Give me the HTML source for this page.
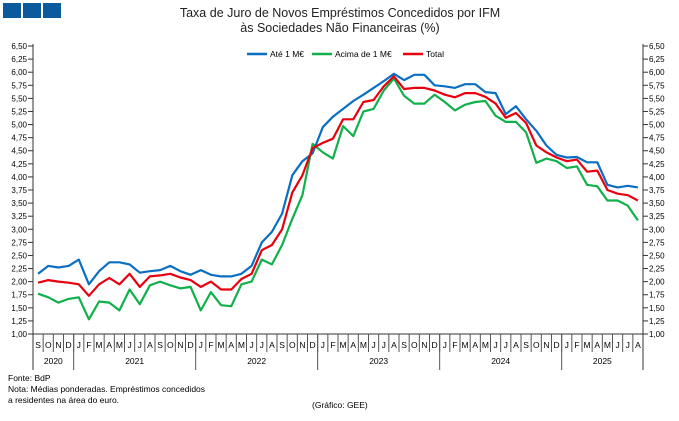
<!DOCTYPE html><html><head><meta charset="utf-8"><style>
body{margin:0;background:#fff;width:679px;height:416px;overflow:hidden;font-family:"Liberation Sans",sans-serif}
</style></head><body>
<svg id="s" width="679" height="416" xmlns="http://www.w3.org/2000/svg" font-family="Liberation Sans, sans-serif">
<rect x="3" y="3" width="18" height="15" fill="#0b5a9e"/><rect x="23" y="3" width="18" height="15" fill="#0b5a9e"/><rect x="43" y="3" width="18" height="15" fill="#0b5a9e"/>
<text x="340" y="17" font-size="12.5" text-anchor="middle" fill="#222">Taxa de Juro de Novos Empréstimos Concedidos por IFM</text>
<text x="340" y="32" font-size="12.5" text-anchor="middle" fill="#222">às Sociedades Não Financeiras (%)</text>
<line x1="247" y1="54" x2="267" y2="54" stroke="#0a6fc2" stroke-width="2.5"/><text x="270" y="57" font-size="8.5">Até 1 M€</text>
<line x1="312" y1="54" x2="332" y2="54" stroke="#10b04a" stroke-width="2.5"/><text x="335" y="57" font-size="8.5">Acima de 1 M€</text>
<line x1="403" y1="54" x2="423" y2="54" stroke="#e8000e" stroke-width="2.5"/><text x="426" y="57" font-size="8.5">Total</text>
<text x="8" y="381" font-size="8.5">Fonte: BdP</text>
<text x="8" y="392" font-size="8.5">Nota: Médias ponderadas. Empréstimos concedidos</text>
<text x="8" y="403" font-size="8.5">a residentes na área do euro.</text>
<text x="312" y="408" font-size="8.5">(Gráfico: GEE)</text>
<g id="g"></g></svg>
<script>
const g=document.getElementById('g');let h='';
const X0=33,X1=643,Y0=334,k=52.36,n=60,w=(X1-X0)/n;
const Y=v=>Y0-(v-1)*k;
h+=`<line x1="${X0}" y1="44" x2="${X0}" y2="370" stroke="#333"/><line x1="${X1}" y1="44" x2="${X1}" y2="370" stroke="#333"/>`;
for(let i=0;i<=22;i++){const v=1+i*0.25,y=Y(v),t=v.toFixed(2).replace('.',',');
h+=`<line x1="28" y1="${y}" x2="${X0}" y2="${y}" stroke="#333"/><line x1="${X1}" y1="${y}" x2="${X1+5}" y2="${y}" stroke="#333"/>`;
h+=`<text x="27" y="${y+3}" font-size="8" text-anchor="end">${t}</text><text x="${X1+6}" y="${y+3}" font-size="8">${t}</text>`;}
h+=`<line x1="${X0}" y1="${Y0}" x2="${X1}" y2="${Y0}" stroke="#333"/>`;
const m="SONDJFMAMJJASONDJFMAMJJASONDJFMAMJJASONDJFMAMJJASONDJFMAMJJA";
for(let i=0;i<n;i++){const x=X0+i*w;if(i>0)h+=`<line x1="${x}" y1="${Y0}" x2="${x}" y2="${Y0+18}" stroke="#555"/>`;
h+=`<text x="${x+w/2}" y="${Y0+14}" font-size="8.5" text-anchor="middle">${m[i]}</text>`;}
[[0,4,'2020'],[4,16,'2021'],[16,28,'2022'],[28,40,'2023'],[40,52,'2024'],[52,60,'2025']].forEach(([a,b,t])=>{
if(a>0)h+=`<line x1="${X0+a*w}" y1="${Y0}" x2="${X0+a*w}" y2="370" stroke="#555"/>`;
h+=`<text x="${X0+(a+b)/2*w}" y="364" font-size="8.5" text-anchor="middle">${t}</text>`;});
const B=[2.15,2.30,2.27,2.30,2.42,1.95,2.20,2.37,2.37,2.33,2.17,2.20,2.22,2.30,2.20,2.13,2.22,2.13,2.10,2.10,2.15,2.30,2.75,2.95,3.30,4.03,4.30,4.45,4.95,5.15,5.30,5.45,5.57,5.70,5.83,5.97,5.85,5.95,5.95,5.75,5.73,5.70,5.77,5.77,5.62,5.60,5.20,5.35,5.10,4.88,4.60,4.42,4.37,4.38,4.28,4.28,3.85,3.80,3.83,3.80];
const G=[1.77,1.70,1.60,1.67,1.70,1.28,1.62,1.60,1.45,1.85,1.57,1.93,2.00,1.93,1.87,1.90,1.45,1.80,1.55,1.53,1.95,2.00,2.42,2.33,2.70,3.20,3.65,4.63,4.47,4.35,4.97,4.78,5.25,5.30,5.65,5.88,5.55,5.40,5.40,5.57,5.43,5.27,5.38,5.43,5.45,5.17,5.05,5.05,4.85,4.27,4.35,4.30,4.17,4.20,3.85,3.82,3.55,3.55,3.45,3.17];
const R=[1.98,2.03,2.00,1.98,1.95,1.73,1.95,2.07,1.95,2.15,1.90,2.10,2.12,2.15,2.08,2.03,1.90,2.00,1.85,1.85,2.05,2.15,2.60,2.70,3.00,3.70,4.03,4.55,4.65,4.73,5.10,5.10,5.43,5.47,5.73,5.92,5.68,5.70,5.70,5.65,5.57,5.52,5.60,5.60,5.53,5.40,5.13,5.22,5.03,4.60,4.47,4.37,4.30,4.33,4.10,4.12,3.75,3.68,3.65,3.55];
[[G,'#10b04a'],[B,'#0a6fc2'],[R,'#e8000e']].forEach(([d,c])=>{h+=`<polyline fill="none" stroke="${c}" stroke-width="2.2" stroke-linejoin="round" points="${d.map((v,i)=>(X0+(i+.5)*w).toFixed(1)+','+Y(v).toFixed(1)).join(' ')}"/>`;});
g.innerHTML=h;
</script></body></html>
